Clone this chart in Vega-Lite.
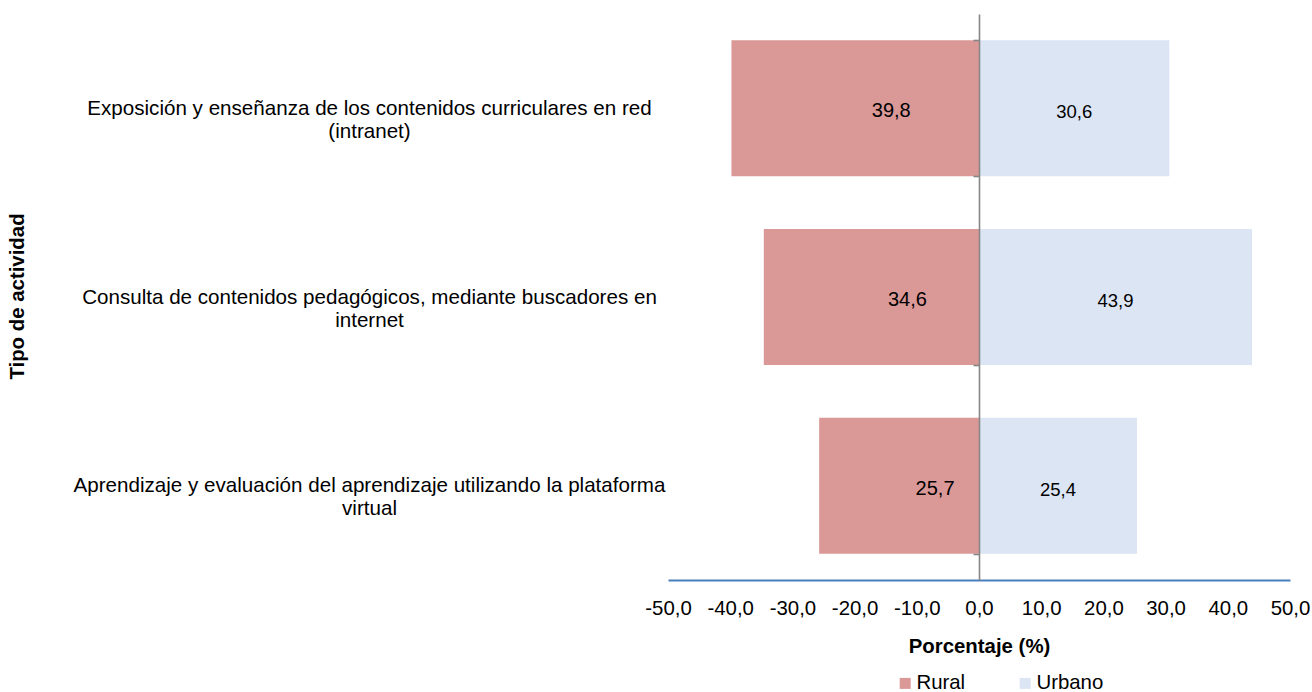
{
  "$schema": "https://vega.github.io/schema/vega-lite/v6.json",
  "width": 622,
  "height": 566,
  "autosize": "none",
  "padding": {"left": 668, "top": 14, "right": 22, "bottom": 112},
  "background": "white",
  "config": {
    "view": {"stroke": null},
    "font": "Liberation Sans",
    "axis": {"labelFont": "Liberation Sans", "titleFont": "Liberation Sans"},
    "legend": {"labelFont": "Liberation Sans"},
    "text": {"font": "Liberation Sans"}
  },
  "data": {
    "values": [
      {"actividad": "Exposición y enseñanza de los contenidos curriculares en red|(intranet)", "grupo": "Rural", "valor": 39.8},
      {"actividad": "Exposición y enseñanza de los contenidos curriculares en red|(intranet)", "grupo": "Urbano", "valor": 30.6},
      {"actividad": "Consulta de contenidos pedagógicos, mediante buscadores en|internet", "grupo": "Rural", "valor": 34.6},
      {"actividad": "Consulta de contenidos pedagógicos, mediante buscadores en|internet", "grupo": "Urbano", "valor": 43.9},
      {"actividad": "Aprendizaje y evaluación del aprendizaje utilizando la plataforma|virtual", "grupo": "Rural", "valor": 25.7},
      {"actividad": "Aprendizaje y evaluación del aprendizaje utilizando la plataforma|virtual", "grupo": "Urbano", "valor": 25.4}
    ]
  },
  "transform": [
    {"calculate": "datum.grupo == 'Rural' ? -datum.valor : datum.valor", "as": "xv"},
    {"calculate": "datum.xv / 2", "as": "xm"},
    {"calculate": "replace(format(datum.valor, '.1f'), '.', ',')", "as": "etq"}
  ],
  "encoding": {
    "y": {
      "field": "actividad",
      "type": "nominal",
      "sort": null,
      "scale": {"paddingInner": 0.279, "paddingOuter": 0.1395},
      "axis": {
        "title": "Tipo de actividad",
        "titleFontSize": 20.4,
        "titleFontWeight": "bold",
        "titleColor": "#000000",
        "titleAngle": -90,
        "titleAlign": "center",
        "titleBaseline": "alphabetic",
        "titleX": -956,
        "titleY": 282,
        "offset": -311,
        "zindex": 2,
        "domainColor": "#868686",
        "domainWidth": 1.6,
        "ticks": true,
        "tickBand": "extent",
        "tickSize": 6,
        "tickColor": "#868686",
        "tickWidth": 1.6,
        "labelExpr": "split(datum.label, '|')",
        "labelAlign": "center",
        "labelBaseline": "middle",
        "labelFontSize": 20.6,
        "labelLineHeight": 23,
        "labelColor": "#000000",
        "labelLimit": 2000,
        "labelOverlap": false,
        "labelPadding": 604,
        "encode": {
          "labels": {
            "update": {
              "dx": {"signal": "indexof(datum.value, 'Aprendizaje') >= 0 ? -15 : (indexof(datum.value, 'Consulta') >= 0 ? -7 : 0)"}
            }
          }
        }
      }
    }
  },
  "layer": [
    {
      "mark": {"type": "bar"},
      "encoding": {
        "x": {
          "field": "xv",
          "type": "quantitative",
          "scale": {"domain": [-50, 50], "nice": false, "zero": false},
          "axis": {
            "title": "Porcentaje (%)",
            "titleFontSize": 20.4,
            "titleFontWeight": "bold",
            "titleColor": "#000000",
            "titlePadding": 18,
            "values": [-50, -40, -30, -20, -10, 0, 10, 20, 30, 40, 50],
            "labelExpr": "replace(replace(format(datum.value, '.1f'), '.', ','), '\u2212', '-')",
            "labelFontSize": 20.4,
            "labelColor": "#000000",
            "labelPadding": 18,
            "labelFlush": false,
            "labelOverlap": false,
            "ticks": false,
            "grid": false,
            "domainColor": "#4a7ebb",
            "domainWidth": 2
          }
        },
        "color": {
          "field": "grupo",
          "type": "nominal",
          "scale": {"domain": ["Rural", "Urbano"], "range": ["#da9897", "#dbe5f3"]},
          "legend": {
            "title": null,
            "orient": "none",
            "legendX": 227,
            "legendY": 659,
            "direction": "horizontal",
            "symbolType": "square",
            "symbolSize": 121,
            "symbolStrokeWidth": 0,
            "labelFontSize": 20.4,
            "labelColor": "#000000",
            "labelOffset": 1,
            "columnPadding": 49
          }
        }
      }
    },
    {
      "transform": [{"filter": "datum.grupo == 'Rural'"}],
      "mark": {"type": "text", "dx": 36, "dy": 3, "fontSize": 20, "color": "#000000"},
      "encoding": {
        "x": {"field": "xm", "type": "quantitative", "title": "Porcentaje (%)"},
        "text": {"field": "etq", "type": "nominal"}
      }
    },
    {
      "transform": [{"filter": "datum.grupo == 'Urbano'"}],
      "mark": {"type": "text", "dy": 4, "fontSize": 18.5, "color": "#000000"},
      "encoding": {
        "x": {"field": "xm", "type": "quantitative", "title": "Porcentaje (%)"},
        "text": {"field": "etq", "type": "nominal"}
      }
    }
  ]
}
